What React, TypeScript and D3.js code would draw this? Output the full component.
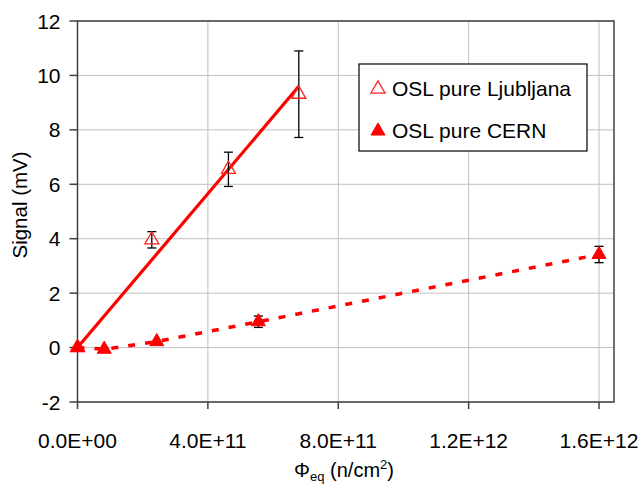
import React from "react";
import * as d3 from "d3";

const W = 643;
const H = 490;

// Ljubljana (open triangles, solid fit)
const ljuX = [0, 2.28e11, 4.63e11, 6.79e11];
const ljuY = [0, 3.96, 6.55, 9.31];
const ljuErr = [0, 0.3, 0.63, 1.59];
const ljuFitX = [0, 6.79e11];
const ljuFitY = [0, 9.6];

// CERN (filled triangles, dashed)
const cernX = [0, 8.2e10, 2.43e11, 5.55e11, 1.6e12];
const cernY = [0, -0.06, 0.22, 0.95, 3.42];
const cernErr = [0.05, 0, 0, 0.21, 0.3];

const xTicks = [0, 4e11, 8e11, 1.2e12, 1.6e12];
const xTickLabels = ["0.0E+00", "4.0E+11", "8.0E+11", "1.2E+12", "1.6E+12"];
const yTicks = [-2, 0, 2, 4, 6, 8, 10, 12];

const legendLabels = ["OSL pure Ljubljana", "OSL pure CERN"];

const FONT = "'Liberation Sans', Arial, sans-serif";

export default function App() {
  const left = 77.5, right = 614, top = 21, bottom = 402;
  const x = d3.scaleLinear().domain([0, 1.646e12]).range([left, right]);
  const y = d3.scaleLinear().domain([-2, 12]).range([bottom, top]);
  const line = d3.line<[number, number]>().x(d => x(d[0])).y(d => y(d[1]));
  const tri = d3.symbol().type(d3.symbolTriangle).size(85);
  const triPath = tri() as string;

  const fitPts: [number, number][] = ljuFitX.map((v, i) => [v, ljuFitY[i]]);
  const cernPts: [number, number][] = cernX.map((v, i) => [v, cernY[i]]);

  const errBar = (xv: number, yv: number, e: number, key: string) => {
    if (e <= 0) return null;
    const cx = x(xv);
    const y1 = y(yv + e), y2 = y(yv - e);
    return (
      <g key={key} stroke="#000" strokeWidth={1.3}>
        <line x1={cx} x2={cx} y1={y1} y2={y2} />
        <line x1={cx - 4.5} x2={cx + 4.5} y1={y1} y2={y1} />
        <line x1={cx - 4.5} x2={cx + 4.5} y1={y2} y2={y2} />
      </g>
    );
  };

  return (
    <svg width={W} height={H} style={{ position: "absolute", left: 0, top: 0, background: "#fff" }}>
      <rect x={0} y={0} width={W} height={H} fill="#fff" />
      {/* gridlines */}
      <g stroke="#c0c0c0" strokeWidth={1}>
        {yTicks.map(t => (
          <line key={"gy" + t} x1={left} x2={right} y1={y(t)} y2={y(t)} />
        ))}
        {xTicks.map(t => (
          <line key={"gx" + t} x1={x(t)} x2={x(t)} y1={top} y2={bottom} />
        ))}
      </g>
      {/* plot border */}
      <rect x={left} y={top} width={right - left} height={bottom - top} fill="none" stroke="#404040" strokeWidth={1.5} />
      {/* ticks */}
      <g stroke="#404040" strokeWidth={1.5}>
        {yTicks.map(t => (
          <line key={"ty" + t} x1={left - 8} x2={left} y1={y(t)} y2={y(t)} />
        ))}
        {xTicks.map(t => (
          <line key={"tx" + t} x1={x(t)} x2={x(t)} y1={bottom} y2={bottom + 7} />
        ))}
      </g>
      {/* tick labels */}
      <g fontFamily={FONT} fontSize={21} fill="#000">
        {yTicks.map(t => (
          <text key={"ly" + t} x={left - 17} y={y(t) + 7.5} textAnchor="end">{t}</text>
        ))}
        {xTicks.map((t, i) => (
          <text key={"lx" + t} x={x(t)} y={448} textAnchor="middle">{xTickLabels[i]}</text>
        ))}
      </g>
      {/* axis titles */}
      <text transform="translate(27,205) rotate(-90)" textAnchor="middle" fontFamily={FONT} fontSize={20.5}>Signal (mV)</text>
      <text x={344} y={477} textAnchor="middle" fontFamily={FONT} fontSize={20}>
        Φ<tspan fontSize={13} dy={4}>eq</tspan><tspan dy={-4}> (n/cm</tspan><tspan fontSize={13} dy={-8}>2</tspan><tspan dy={8}>)</tspan>
      </text>
      {/* lines */}
      <path d={line(fitPts) as string} fill="none" stroke="#ff0000" strokeWidth={3.2} />
      <path d={line(cernPts) as string} fill="none" stroke="#ff0000" strokeWidth={3.5} strokeDasharray="7,10" />
      {/* error bars */}
      {ljuX.map((v, i) => errBar(v, ljuY[i], ljuErr[i], "le" + i))}
      {cernX.map((v, i) => errBar(v, cernY[i], cernErr[i], "ce" + i))}
      {/* markers */}
      {ljuX.map((v, i) => (
        <path key={"lm" + i} d={triPath} transform={`translate(${x(v)},${y(ljuY[i])})`} fill="none" stroke="#ff2020" strokeWidth={1.3} />
      ))}
      {cernX.map((v, i) => (
        <path key={"cm" + i} d={triPath} transform={`translate(${x(v)},${y(cernY[i])})`} fill="#ff0000" stroke="#ff0000" strokeWidth={1} />
      ))}
      {/* legend */}
      <rect x={359} y={64} width={228} height={87} fill="#fff" stroke="#000" strokeWidth={1.2} />
      <path d={triPath} transform="translate(378,89)" fill="none" stroke="#ff2020" strokeWidth={1.3} />
      <path d={triPath} transform="translate(378,131)" fill="#ff0000" stroke="#ff0000" strokeWidth={1} />
      <g fontFamily={FONT} fontSize={21} fill="#000">
        <text x={392} y={96}>{legendLabels[0]}</text>
        <text x={392} y={138}>{legendLabels[1]}</text>
      </g>
    </svg>
  );
}
